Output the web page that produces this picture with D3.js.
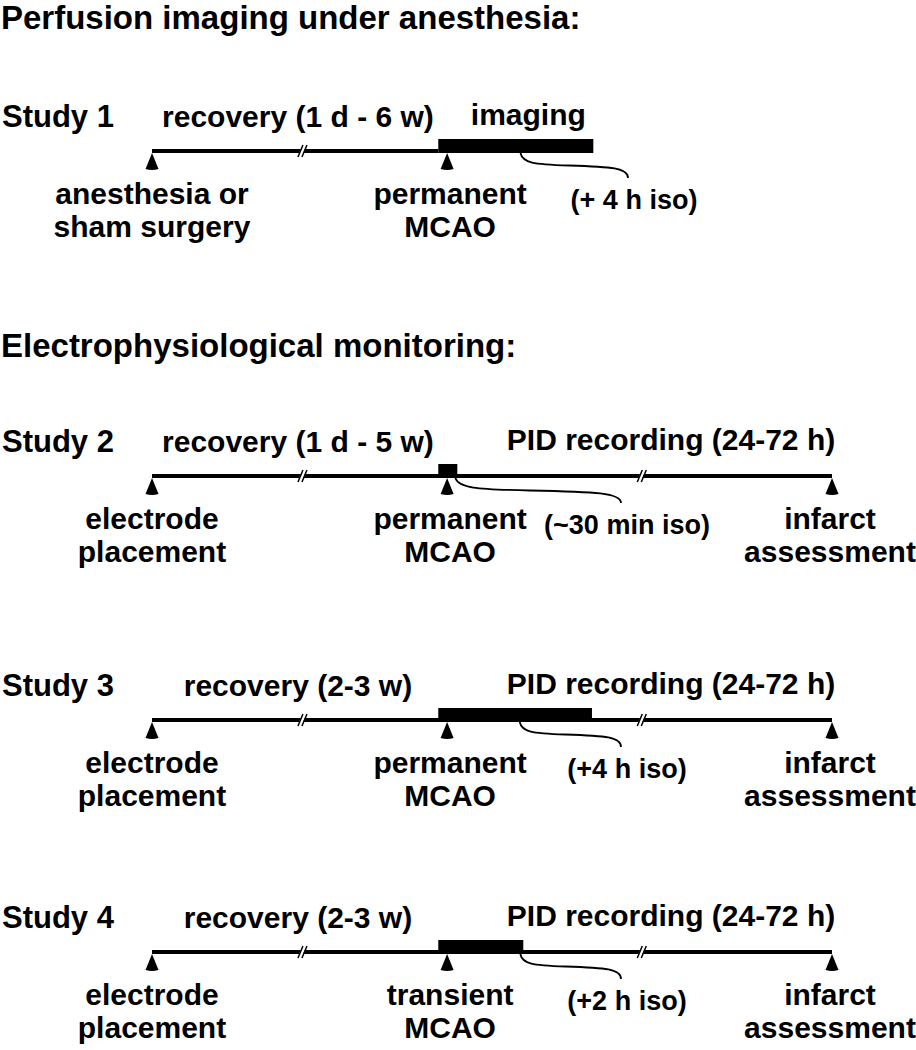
<!DOCTYPE html>
<html lang="en">
<head>
    <meta charset="UTF-8">
    <title>Study timelines</title>
    <style>
        body {
            margin: 0;
            padding: 0;
            background-color: #ffffff;
        }
        svg text {
            font-family: "Liberation Sans", Arial, sans-serif;
            font-weight: bold;
            fill: #000000;
        }
    </style>
</head>
<body>
    <svg id="chart" width="916" height="1050"></svg>
    <script src="https://d3js.org/d3.v7.min.js"></script>
    <script>
        // schematic timeline positions (0 = first event, 100 = end of recording)
        const sections = ["Perfusion imaging under anesthesia:", "Electrophysiological monitoring:"];
        const studies = ["Study 1", "Study 2", "Study 3", "Study 4"];
        const recoveryLabels = ["recovery (1 d - 6 w)", "recovery (1 d - 5 w)", "recovery (2-3 w)", "recovery (2-3 w)"];
        const phaseLabels = ["imaging", "PID recording (24-72 h)", "PID recording (24-72 h)", "PID recording (24-72 h)"];
        const isoLabels = ["(+ 4 h iso)", "(~30 min iso)", "(+4 h iso)", "(+2 h iso)"];
        const startLabels = [["anesthesia or", "sham surgery"], ["electrode", "placement"], ["electrode", "placement"], ["electrode", "placement"]];
        const mcaoLabels = [["permanent", "MCAO"], ["permanent", "MCAO"], ["permanent", "MCAO"], ["transient", "MCAO"]];
        const endLabels = [null, ["infarct", "assessment"], ["infarct", "assessment"], ["infarct", "assessment"]];
        const startPos = [0, 0, 0, 0];
        const mcaoPos = [43.4, 43.4, 43.4, 43.4];
        const isoStart = [42.1, 42.1, 42.1, 42.1];
        const isoEnd = [64.9, 44.9, 64.7, 54.6];
        const lineEnd = [42.1, 100, 100, 100];
        const endPos = [null, 100, 100, 100];
        const breaks = [[22.2], [22.2, 72.1], [22.2, 72.1], [22.2, 72.1]];

        const svg = d3.select("#chart");
        const x = d3.scaleLinear().domain([0, 100]).range([152, 832]);
        const rowY = d3.scaleOrdinal().domain(studies).range([151, 476, 720, 952]);
        const sectionY = d3.scaleOrdinal().domain(sections).range([29, 357]);

        svg.selectAll("text.section")
            .data(sections)
            .enter()
            .append("text")
            .attr("class", "section")
            .attr("x", 1)
            .attr("y", d => sectionY(d))
            .style("font-size", "33px")
            .text(d => d);

        const rows = studies.map((s, i) => ({
            name: s, recovery: recoveryLabels[i], phase: phaseLabels[i], iso: isoLabels[i],
            start: startLabels[i], mcao: mcaoLabels[i], end: endLabels[i],
            startPos: startPos[i], mcaoPos: mcaoPos[i], isoStart: isoStart[i], isoEnd: isoEnd[i],
            lineEnd: lineEnd[i], endPos: endPos[i], breaks: breaks[i]
        }));

        const connector = (x0, y0, x1, y1) => {
            const w = x1 - x0, h = y1 - y0;
            const p = d3.path();
            p.moveTo(x0, y0);
            p.bezierCurveTo(x0 + 0.02 * w, y0 + 0.4 * h, x0 + 0.12 * w, y0 + 0.45 * h, x0 + 0.45 * w, y0 + 0.5 * h);
            p.bezierCurveTo(x0 + 0.85 * w, y0 + 0.55 * h, x1, y0 + 0.6 * h, x1, y1);
            return p.toString();
        };

        const marker = (cx, y) => {
            const p = d3.path();
            p.moveTo(cx, y);
            p.lineTo(cx + 6.5, y + 16);
            p.quadraticCurveTo(cx, y + 18, cx - 6.5, y + 16);
            p.closePath();
            return p.toString();
        };

        const twoLines = (g, lines, cx, y0) => {
            lines.forEach((t, k) => {
                g.append("text")
                    .attr("x", cx)
                    .attr("y", y0 + k * 33)
                    .attr("text-anchor", "middle")
                    .style("font-size", "30px")
                    .text(t);
            });
        };

        rows.forEach(d => {
            const y = rowY(d.name);
            const g = svg.append("g");

            g.append("text").attr("x", 2).attr("y", y - 24).style("font-size", "31px").text(d.name);
            g.append("text").attr("x", x(d.breaks[0]) - 5).attr("y", y - 24)
                .attr("text-anchor", "middle").style("font-size", "30px").text(d.recovery);
            const phaseX = d.endPos === null ? x(d.isoEnd) - 65 : 671;
            g.append("text").attr("x", phaseX).attr("y", y - 26)
                .attr("text-anchor", "middle").style("font-size", "30px").text(d.phase);

            // main line
            g.append("line")
                .attr("x1", x(d.startPos)).attr("x2", x(d.lineEnd))
                .attr("y1", y).attr("y2", y)
                .attr("stroke", "#000").attr("stroke-width", 4);

            // anesthesia bar
            g.append("rect")
                .attr("x", x(d.isoStart)).attr("y", y - 12)
                .attr("width", x(d.isoEnd) - x(d.isoStart)).attr("height", 14)
                .attr("fill", "#000");

            // axis breaks
            d.breaks.forEach(b => {
                const bx = x(b);
                g.append("polygon")
                    .attr("points", [[bx - 5, y + 5], [bx - 1, y - 5], [bx + 3, y - 5], [bx - 1, y + 5]].join(" "))
                    .attr("fill", "#fff");
                [bx - 5, bx - 1].forEach(sx => {
                    g.append("line")
                        .attr("x1", sx).attr("y1", y + 6).attr("x2", sx + 5).attr("y2", y - 6)
                        .attr("stroke", "#000").attr("stroke-width", 1.5);
                });
            });

            // event markers
            [d.startPos, d.mcaoPos, d.endPos].filter(v => v !== null).forEach(v => {
                g.append("path").attr("d", marker(x(v), y + 2)).attr("fill", "#000");
            });

            // connector to iso label
            const cx0 = d.isoEnd - d.isoStart < 5 ? x(d.isoEnd) - 2 : x(d.isoStart) + (x(d.isoEnd) - x(d.isoStart)) * 0.53;
            const cx0c = d.name === "Study 4" ? x(d.isoEnd) - 3 : cx0;
            const isoX = d.name === "Study 1" ? 634 : 627;
            g.append("path")
                .attr("d", connector(cx0c, y + 2, isoX - 6, y + 27))
                .attr("fill", "none").attr("stroke", "#000").attr("stroke-width", 1.8);
            g.append("text").attr("x", isoX).attr("y", y + 58)
                .attr("text-anchor", "middle").style("font-size", "27px").text(d.iso);

            twoLines(g, d.start, x(d.startPos), y + 53);
            twoLines(g, d.mcao, x(d.mcaoPos) + 3, y + 53);
            if (d.end) twoLines(g, d.end, 830, y + 53);
        });
    </script>
</body>
</html>
